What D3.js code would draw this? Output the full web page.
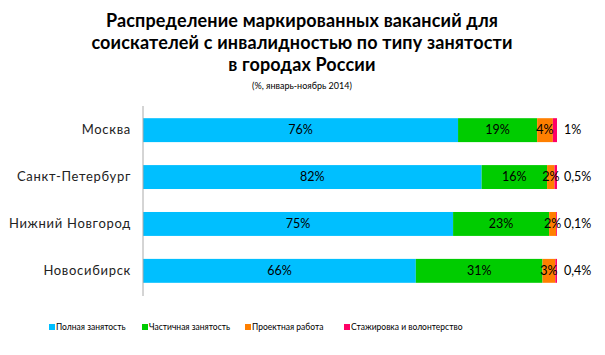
<!DOCTYPE html>
<html><head><meta charset="utf-8">
<script src="https://cdn.jsdelivr.net/npm/d3@7"></script>
<style>body{margin:0;background:#fff}svg{display:block}</style>
</head><body>
<script>
const categories = ["Москва","Санкт-Петербург","Нижний Новгород","Новосибирск"];
const seriesNames = ["Полная занятость","Частичная занятость","Проектная работа","Стажировка и волонтерство"];
const fullEmployment = [76.1, 81.8, 74.9, 65.9];
const partEmployment = [19.1, 15.8, 23.2, 30.6];
const projectWork = [3.8, 1.8, 1.7, 3.1];
const internship = [1.0, 0.6, 0.2, 0.4];
const fullLabels = ["76%","82%","75%","66%"];
const partLabels = ["19%","16%","23%","31%"];
const projectLabels = ["4%","2%","2%","3%"];
const internLabels = ["1%","0,5%","0,1%","0,4%"];
const titleLines = ["Распределение маркированных вакансий для","соискателей с инвалидностью по типу занятости","в городах России"];
const subtitle = "(%, январь-ноябрь 2014)";
const colors = ["#00BFFF","#00CC00","#FF7F00","#FF0066"];

const W=605,H=355;
const svg=d3.select("body").append("svg").attr("width",W).attr("height",H);
const font="'Century Gothic','URW Gothic','Lato','DejaVu Sans',sans-serif";

const series=[fullEmployment,partEmployment,projectWork,internship];
const labels=[fullLabels,partLabels,projectLabels,internLabels];
const rows=categories.map((c,i)=>{const o={cat:c};seriesNames.forEach((s,j)=>o[s]=series[j][i]);return o;});
const stacked=d3.stack().keys(seriesNames)(rows);

const x=d3.scaleLinear().domain([0,100]).range([143,557]);
const y=d3.scaleBand().domain(categories).range([106,295]).paddingInner(0.49).paddingOuter(0.26);

// title
const t=svg.append("text").attr("text-anchor","middle").attr("font-family",font).attr("font-weight","bold").attr("font-size",18).attr("letter-spacing",0.15).attr("fill","#000");
titleLines.forEach((l,i)=>t.append("tspan").attr("x",302).attr("y",27+i*22).text(l));
svg.append("text").attr("x",302).attr("y",89).attr("text-anchor","middle").attr("font-family",font).attr("font-size",9).attr("fill","#000").text(subtitle);

// bars
stacked.forEach((s,j)=>{
  svg.append("g").selectAll("rect").data(s).join("rect")
    .attr("x",d=>x(d[0])).attr("width",d=>x(d[1])-x(d[0]))
    .attr("y",(d,i)=>y(categories[i])).attr("height",y.bandwidth())
    .attr("fill",colors[j]);
});

// labels
stacked.forEach((s,j)=>{
  svg.append("g").selectAll("text").data(s).join("text")
    .attr("x",(d,i)=> j===3 ? x(d[1])+7 : (x(d[0])+x(d[1]))/2)
    .attr("y",(d,i)=>y(categories[i])+y.bandwidth()/2+4)
    .attr("text-anchor",j===3?"start":"middle")
    .attr("font-family",font).attr("font-size",12.5).attr("fill","#000")
    .text((d,i)=>labels[j][i]);
});

// axis
const ax=svg.append("g").attr("transform","translate(143,0)").call(d3.axisLeft(y).tickSize(0).tickPadding(12));
ax.select(".domain").attr("stroke","#aaa").attr("d","M0,106V296");
ax.selectAll("text").attr("font-family",font).attr("font-size",13).attr("letter-spacing",0.7).attr("fill","#222");

// legend
const legX=[49,142,245,344];
seriesNames.forEach((n,j)=>{
  svg.append("rect").attr("x",legX[j]).attr("y",324).attr("width",6).attr("height",6).attr("fill",colors[j]);
  svg.append("text").attr("x",legX[j]+7).attr("y",330).attr("font-family",font).attr("font-size",8.5).attr("fill","#000").text(n);
});
</script>
</body></html>
